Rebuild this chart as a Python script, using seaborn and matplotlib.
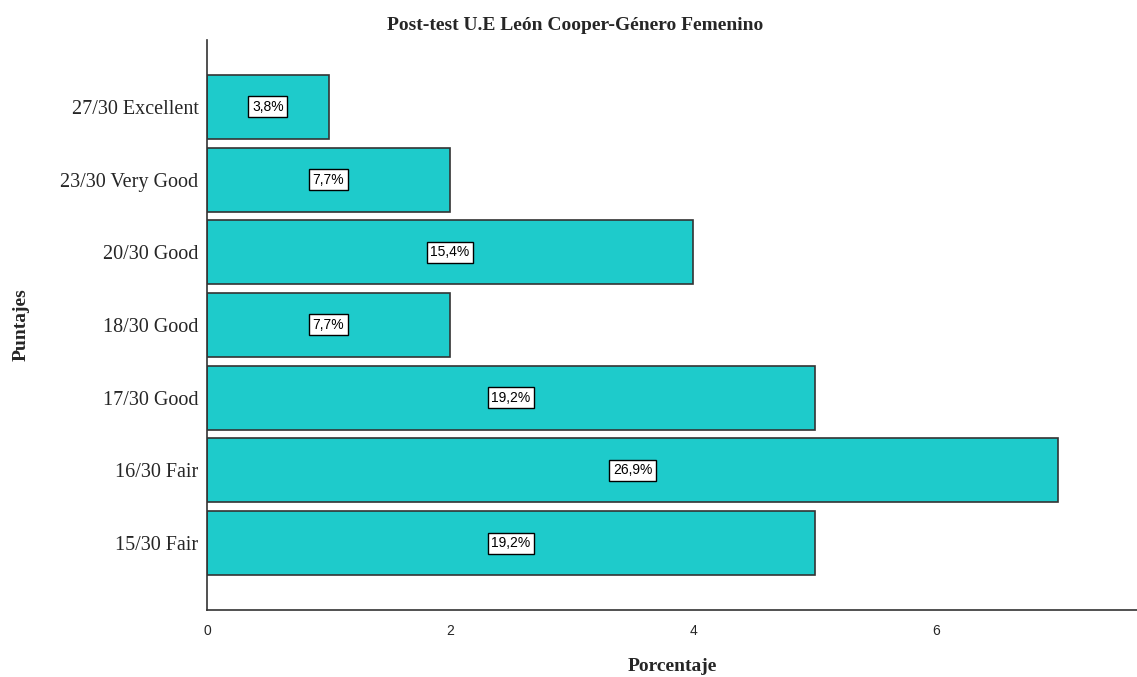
import matplotlib
matplotlib.use("Agg")
import matplotlib.pyplot as plt
import seaborn as sns
import pandas as pd

categories = ["27/30 Excellent", "23/30 Very Good", "20/30 Good", "18/30 Good",
              "17/30 Good", "16/30 Fair", "15/30 Fair"]
counts = [1, 2, 4, 2, 5, 7, 5]
labels = ["3,8%", "7,7%", "15,4%", "7,7%", "19,2%", "26,9%", "19,2%"]
xticks = [0, 2, 4, 6]

sns.set_style("white")
plt.rcParams['font.family'] = ['Liberation Serif', 'DejaVu Serif']

df = pd.DataFrame({"Puntajes": categories, "Porcentaje": counts})

fig = plt.figure(figsize=(11.37, 6.77), dpi=100)
ax = fig.add_axes([0.182, 0.099, 0.818, 0.842])
sns.barplot(data=df, y="Puntajes", x="Porcentaje", orient="h", order=categories,
            color="#1ECBCB", saturation=1, edgecolor="#333333", linewidth=1.2,
            width=0.88, ax=ax)

for i, (c, lab) in enumerate(zip(counts, labels)):
    ax.text(c / 2, i, lab, ha="center", va="center", fontsize=10,
            family=["Liberation Sans", "DejaVu Sans"], color="black",
            bbox=dict(boxstyle="square,pad=0.25", fc="white", ec="black", lw=1))

ax.set_xlim(0, 7.65)
ax.set_ylim(6.92, -0.92)
ax.set_xticks(xticks)
ax.set_xticklabels([str(t) for t in xticks], family=["Liberation Sans", "DejaVu Sans"], fontsize=10)
ax.tick_params(axis="x", length=0, pad=10)
ax.tick_params(axis="y", length=0, pad=6, labelsize=14.5)
for s in ["top", "right"]:
    ax.spines[s].set_visible(False)
for s in ["left", "bottom"]:
    ax.spines[s].set_color("#333333")
    ax.spines[s].set_linewidth(1.2)

ax.set_xlabel("Porcentaje", fontsize=14, fontweight="bold")
ax.set_ylabel("Puntajes", fontsize=14, fontweight="bold")
ax.xaxis.set_label_coords(0.5, -0.1)
ax.yaxis.set_label_coords(-0.2, 0.5)
ax.xaxis.label.set_va("center")
ax.yaxis.label.set_va("center")
fig.text(0.506, 0.962, "Post-test U.E León Cooper-Género Femenino", ha="center", va="center",
         fontsize=14, fontweight="bold")

fig.savefig("out.png", dpi=100)
